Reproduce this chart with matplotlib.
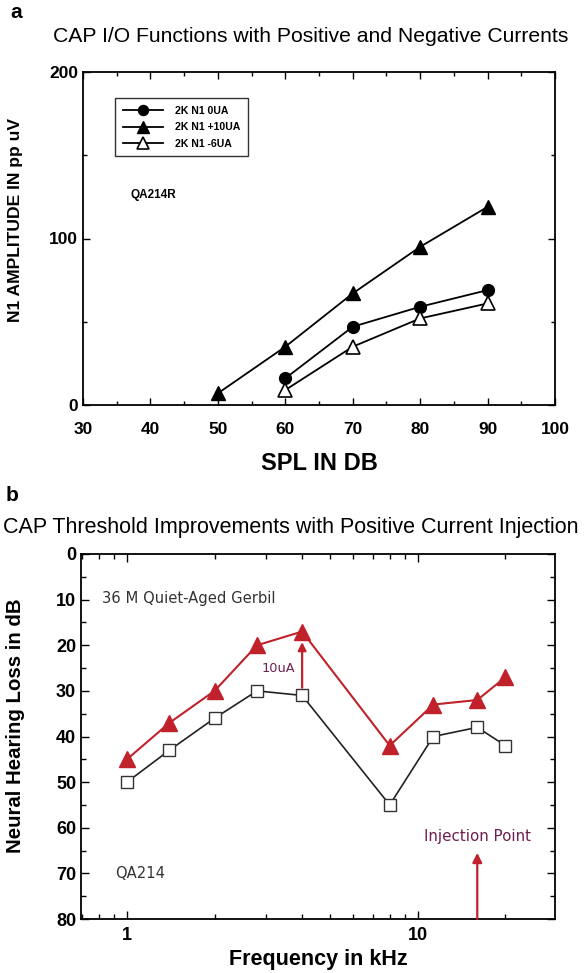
import matplotlib
matplotlib.use("Agg")
import matplotlib.pyplot as plt
from matplotlib.ticker import MultipleLocator, FixedLocator, FixedFormatter, NullFormatter, LogLocator

plt.rcParams['font.family'] = ['Liberation Sans', 'DejaVu Sans']

# panel a: CAP I/O functions
spl_0ua = [60, 70, 80, 90]
amp_0ua = [16, 47, 59, 69]
spl_p10 = [50, 60, 70, 80, 90]
amp_p10 = [7, 35, 67, 95, 119]
spl_m6 = [60, 70, 80, 90]
amp_m6 = [9, 35, 52, 61]

# panel b: CAP thresholds
freq_khz = [1, 1.4, 2, 2.8, 4, 8, 11.3, 16, 20]
loss_base = [50, 43, 36, 30, 31, 55, 40, 38, 42]
loss_10ua = [45, 37, 30, 20, 17, 42, 33, 32, 27]

RED = "#c0212b"
PURPLE = "#6e1f4f"

W, H = 587, 973
fig = plt.figure(figsize=(W / 100, H / 100), dpi=100)


def px_axes(x0, y0, x1, y1):
    return fig.add_axes([x0 / W, 1 - y1 / H, (x1 - x0) / W, (y1 - y0) / H])


# ---------- panel a ----------
ax = px_axes(83, 72, 555, 405)
ax.plot(spl_0ua, amp_0ua, color="black", lw=1.3, marker="o", ms=8.5,
        mfc="black", label="2K N1 0UA")
ax.plot(spl_p10, amp_p10, color="black", lw=1.3, marker="^", ms=9.5,
        mfc="black", label="2K N1 +10UA")
ax.plot(spl_m6, amp_m6, color="black", lw=1.3, marker="^", ms=9.5,
        mfc="white", mec="black", mew=1.2, label="2K N1 -6UA")
ax.set_xlim(30, 100)
ax.set_ylim(0, 200)
ax.xaxis.set_major_locator(MultipleLocator(10))
ax.xaxis.set_minor_locator(MultipleLocator(5))
ax.yaxis.set_major_locator(MultipleLocator(100))
ax.yaxis.set_minor_locator(MultipleLocator(50))
ax.tick_params(which="both", direction="in", top=True, right=True)
ax.tick_params(which="major", length=5, width=1)
ax.tick_params(which="minor", length=3, width=1)
ax.tick_params(axis="x", pad=12)
for lab in ax.get_xticklabels() + ax.get_yticklabels():
    lab.set_fontweight("bold")
    lab.set_fontsize(12.5)
for s in ax.spines.values():
    s.set_linewidth(1.3)
ax.set_xlabel("SPL IN DB", fontsize=17, fontweight="bold", labelpad=11)
ax.set_ylabel("N1 AMPLITUDE IN pp uV", fontsize=12.6, fontweight="bold")
ax.yaxis.set_label_coords(-0.128, 0.556)
leg = ax.legend(loc="upper left", bbox_to_anchor=(0.068, 0.922), fancybox=False,
                edgecolor="black", prop={"weight": "bold", "size": 7.6},
                handlelength=3.8, borderpad=0.75, labelspacing=0.6,
                handletextpad=1.1, markerscale=0.85, borderaxespad=0)
leg.get_frame().set_linewidth(1.0)
ax.text(37, 126, "QA214R", fontsize=8.5, fontweight="bold", va="center")
fig.text(10 / W, 1 - 12 / H, "a", fontsize=15, fontweight="bold", va="center")
fig.text(311 / W, 1 - 37 / H, "CAP I/O Functions with Positive and Negative Currents",
         fontsize=15.2, ha="center", va="center")

# ---------- panel b ----------
bx = px_axes(81, 554, 555, 919)
bx.set_xscale("log")
bx.plot(freq_khz, loss_base, color="#222222", lw=1.2, marker="s", ms=9,
        mfc="white", mec="#333333", mew=1.0)
bx.plot(freq_khz, loss_10ua, color=RED, lw=1.5, marker="^", ms=11,
        mfc=RED, mec=RED)
bx.set_xlim(0.695, 29.6)
bx.set_ylim(80, 0)
bx.xaxis.set_major_locator(FixedLocator([1, 10]))
bx.xaxis.set_major_formatter(FixedFormatter(["1", "10"]))
bx.xaxis.set_minor_locator(LogLocator(base=10, subs=range(2, 10)))
bx.xaxis.set_minor_formatter(NullFormatter())
bx.yaxis.set_major_locator(MultipleLocator(10))
bx.yaxis.set_minor_locator(MultipleLocator(5))
bx.tick_params(which="both", direction="in", top=True, right=True)
bx.tick_params(which="major", length=6, width=1)
bx.tick_params(which="minor", length=3.5, width=1)
bx.tick_params(axis="x", pad=6)
for lab in bx.get_xticklabels() + bx.get_yticklabels():
    lab.set_fontweight("bold")
    lab.set_fontsize(13)
for s in bx.spines.values():
    s.set_linewidth(1.3)
bx.set_xlabel("Frequency in kHz", fontsize=15.5, fontweight="bold", labelpad=3)
bx.set_ylabel("Neural Hearing Loss in dB", fontsize=14.7, fontweight="bold")
bx.yaxis.set_label_coords(-0.118, 0.529)

bx.text(0.82, 9.8, "36 M Quiet-Aged Gerbil", family="DejaVu Sans", fontsize=10.6,
        color="#333333", va="center")
bx.text(0.91, 70, "QA214", family="DejaVu Sans", fontsize=10.6,
        color="#333333", va="center")
bx.annotate("", xy=(4, 19.3), xytext=(4, 29.3),
            arrowprops=dict(arrowstyle="-|>", color=RED, lw=1.6,
                            mutation_scale=12, shrinkA=0, shrinkB=0))
bx.text(3.78, 25, "10uA", family="DejaVu Sans", fontsize=9.3, color=PURPLE,
        ha="right", va="center")
bx.annotate("", xy=(16, 65.5), xytext=(16, 80),
            arrowprops=dict(arrowstyle="-|>", color=RED, lw=1.6,
                            mutation_scale=14, shrinkA=0, shrinkB=0))
bx.text(16, 62, "Injection Point", family="DejaVu Sans", fontsize=10.9,
        color=PURPLE, ha="center", va="center")

fig.text(6 / W, 1 - 495 / H, "b", fontsize=15, fontweight="bold", va="center")
fig.text(3 / W, 1 - 527 / H, "CAP Threshold Improvements with Positive Current Injection",
         fontsize=15.5, ha="left", va="center")

fig.savefig("out.png", dpi=100)
